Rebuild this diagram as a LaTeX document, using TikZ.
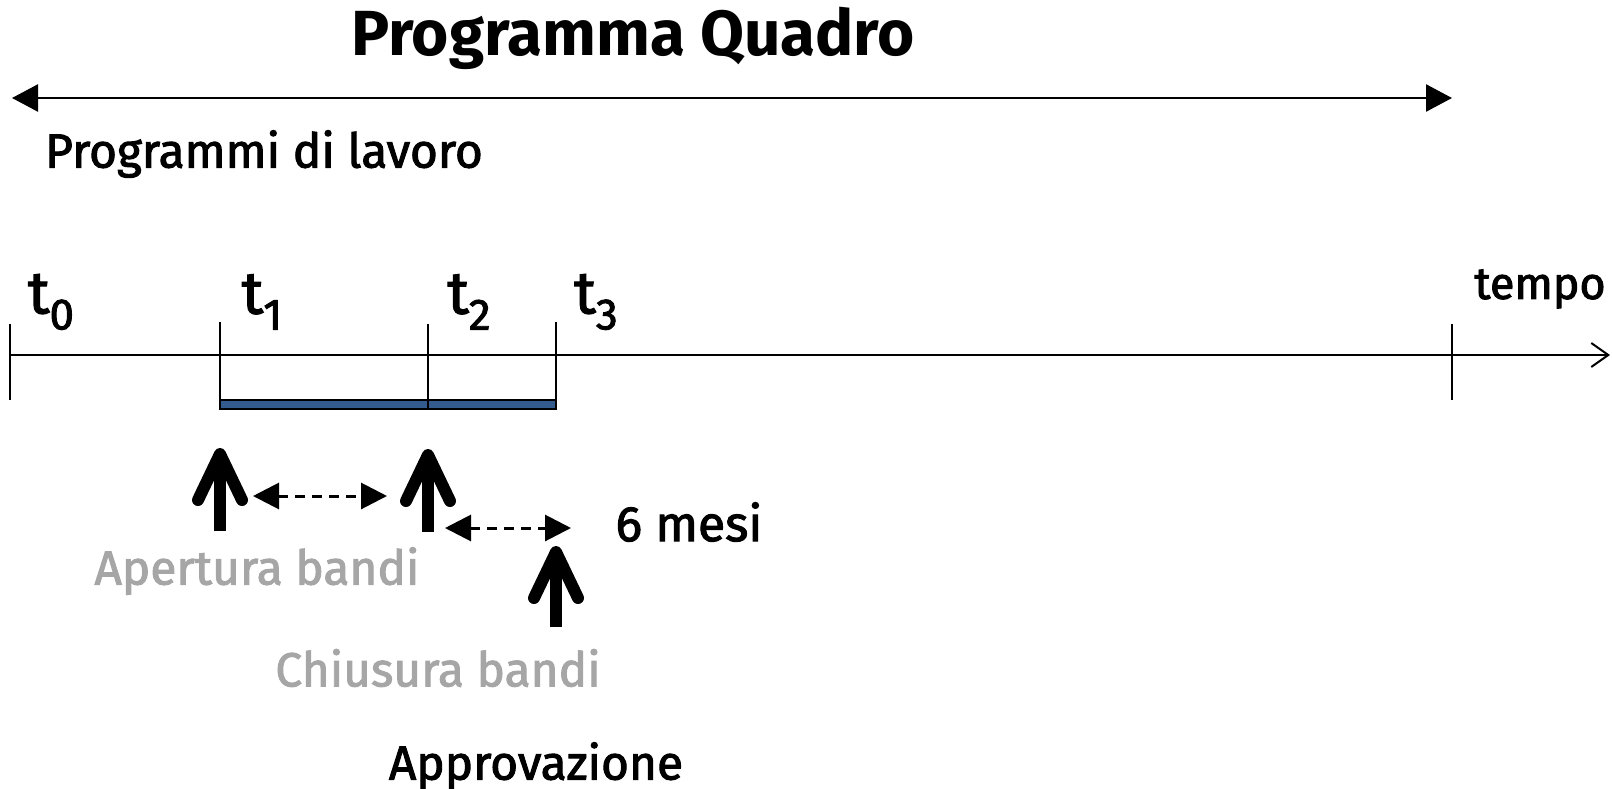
\documentclass[tikz,border=0pt]{standalone}
\usepackage{fontspec}
\setmainfont{Fira Sans}
\newfontfamily\medfont{Fira Sans}[FakeBold=2]
\usetikzlibrary{arrows.meta,calc}
\definecolor{barblue}{RGB}{51,91,141}
\definecolor{lightgraytxt}{RGB}{166,166,166}
\begin{document}
\begin{tikzpicture}[x=1bp,y=-1bp,
  lbl/.style={inner sep=0pt, font=\medfont\fontsize{48}{48}\selectfont},
  graylbl/.style={lbl, text=lightgraytxt},
  tlbl/.style={inner sep=0pt, font=\medfont\fontsize{60}{60}\selectfont},
  thick stroke/.style={line width=12bp},
  chevron/.style={line width=12bp, line cap=round, line join=round},
  dasharrow/.style={line width=3bp, dash pattern=on 10bp off 7bp,
     {Triangle[length=26bp,width=26bp]}-{Triangle[length=26bp,width=26bp]}},
  tick/.style={line width=1.5bp}
]
\useasboundingbox (0,0) rectangle (1612,789);

% title
\node[inner sep=0pt, font=\bfseries\fontsize{64}{64}\selectfont] (title) at (633,38) {Programma Quadro};
\coordinate (pqL) at (12,98);
\coordinate (pqR) at (1452,98);
\draw[line width=2.5bp, {Triangle[length=26bp,width=27bp]}-{Triangle[length=26bp,width=27bp]}] (pqL) -- (pqR);
\node[lbl] (pdl) at (264,154) {Programmi di lavoro};

% time axis
\coordinate (ax0) at (9,355);
\coordinate (ax1) at (1610,355);
\draw[line width=2bp, -{Straight Barb[length=17bp,width=24bp,line width=2bp]}] (ax0) -- (ax1);

% ticks
\coordinate (k0t) at (10,324); \coordinate (k0b) at (10,400);
\coordinate (k1t) at (220,322); \coordinate (k1b) at (220,400);
\coordinate (k2t) at (428,324); \coordinate (k2b) at (428,409);
\coordinate (k3t) at (556,322); \coordinate (k3b) at (556,400);
\coordinate (k4t) at (1452,324); \coordinate (k4b) at (1452,400);

% bar
\coordinate (barA) at (220,400);
\coordinate (barB) at (556,409);
\draw[line width=1.5bp, fill=barblue] (barA) rectangle (barB);

\draw[tick] (k0t) -- (k0b);
\draw[tick] (k1t) -- (k1b);
\draw[tick] (k2t) -- (k2b);
\draw[tick] (k3t) -- (k3b);
\draw[tick] (k4t) -- (k4b);

% time labels
\node[tlbl] (t0) at (51,302) {t\raisebox{-16bp}{\fontsize{44}{44}\selectfont 0}};
\node[tlbl] (t1) at (262,302) {t\raisebox{-16bp}{\fontsize{44}{44}\selectfont 1}};
\node[tlbl] (t2) at (469,302) {t\raisebox{-16bp}{\fontsize{44}{44}\selectfont 2}};
\node[tlbl] (t3) at (596,302) {t\raisebox{-16bp}{\fontsize{44}{44}\selectfont 3}};
\node[lbl, font=\medfont\fontsize{45}{45}\selectfont] (tempo) at (1540,289) {tempo};

% thick up arrows
\coordinate (a1b) at (220,531); \coordinate (a1t) at (220,454);
\coordinate (a2b) at (428,532); \coordinate (a2t) at (428,455);
\coordinate (a3b) at (556,627); \coordinate (a3t) at (556,552);
\foreach \a in {a1,a2,a3}{
  \draw[thick stroke] (\a b) -- (\a t);
  \draw[chevron] ($(\a t)+(-22,46)$) -- (\a t) -- ($(\a t)+(22,46)$);
}

% dashed double arrows
\coordinate (d1a) at (253,496); \coordinate (d1b) at (387,496);
\coordinate (d2a) at (445,528); \coordinate (d2b) at (571,528);
\draw[dasharrow] (d1a) -- (d1b);
\draw[dasharrow] (d2a) -- (d2b);

% labels
\node[graylbl] (ap) at (257,571) {Apertura bandi};
\node[lbl, font=\medfont\fontsize{50}{50}\selectfont] (mesi) at (689,522) {6 mesi};
\node[graylbl] (ch) at (438,668) {Chiusura bandi};
\node[lbl] (appr) at (536,766) {Approvazione};
\end{tikzpicture}
\end{document}
